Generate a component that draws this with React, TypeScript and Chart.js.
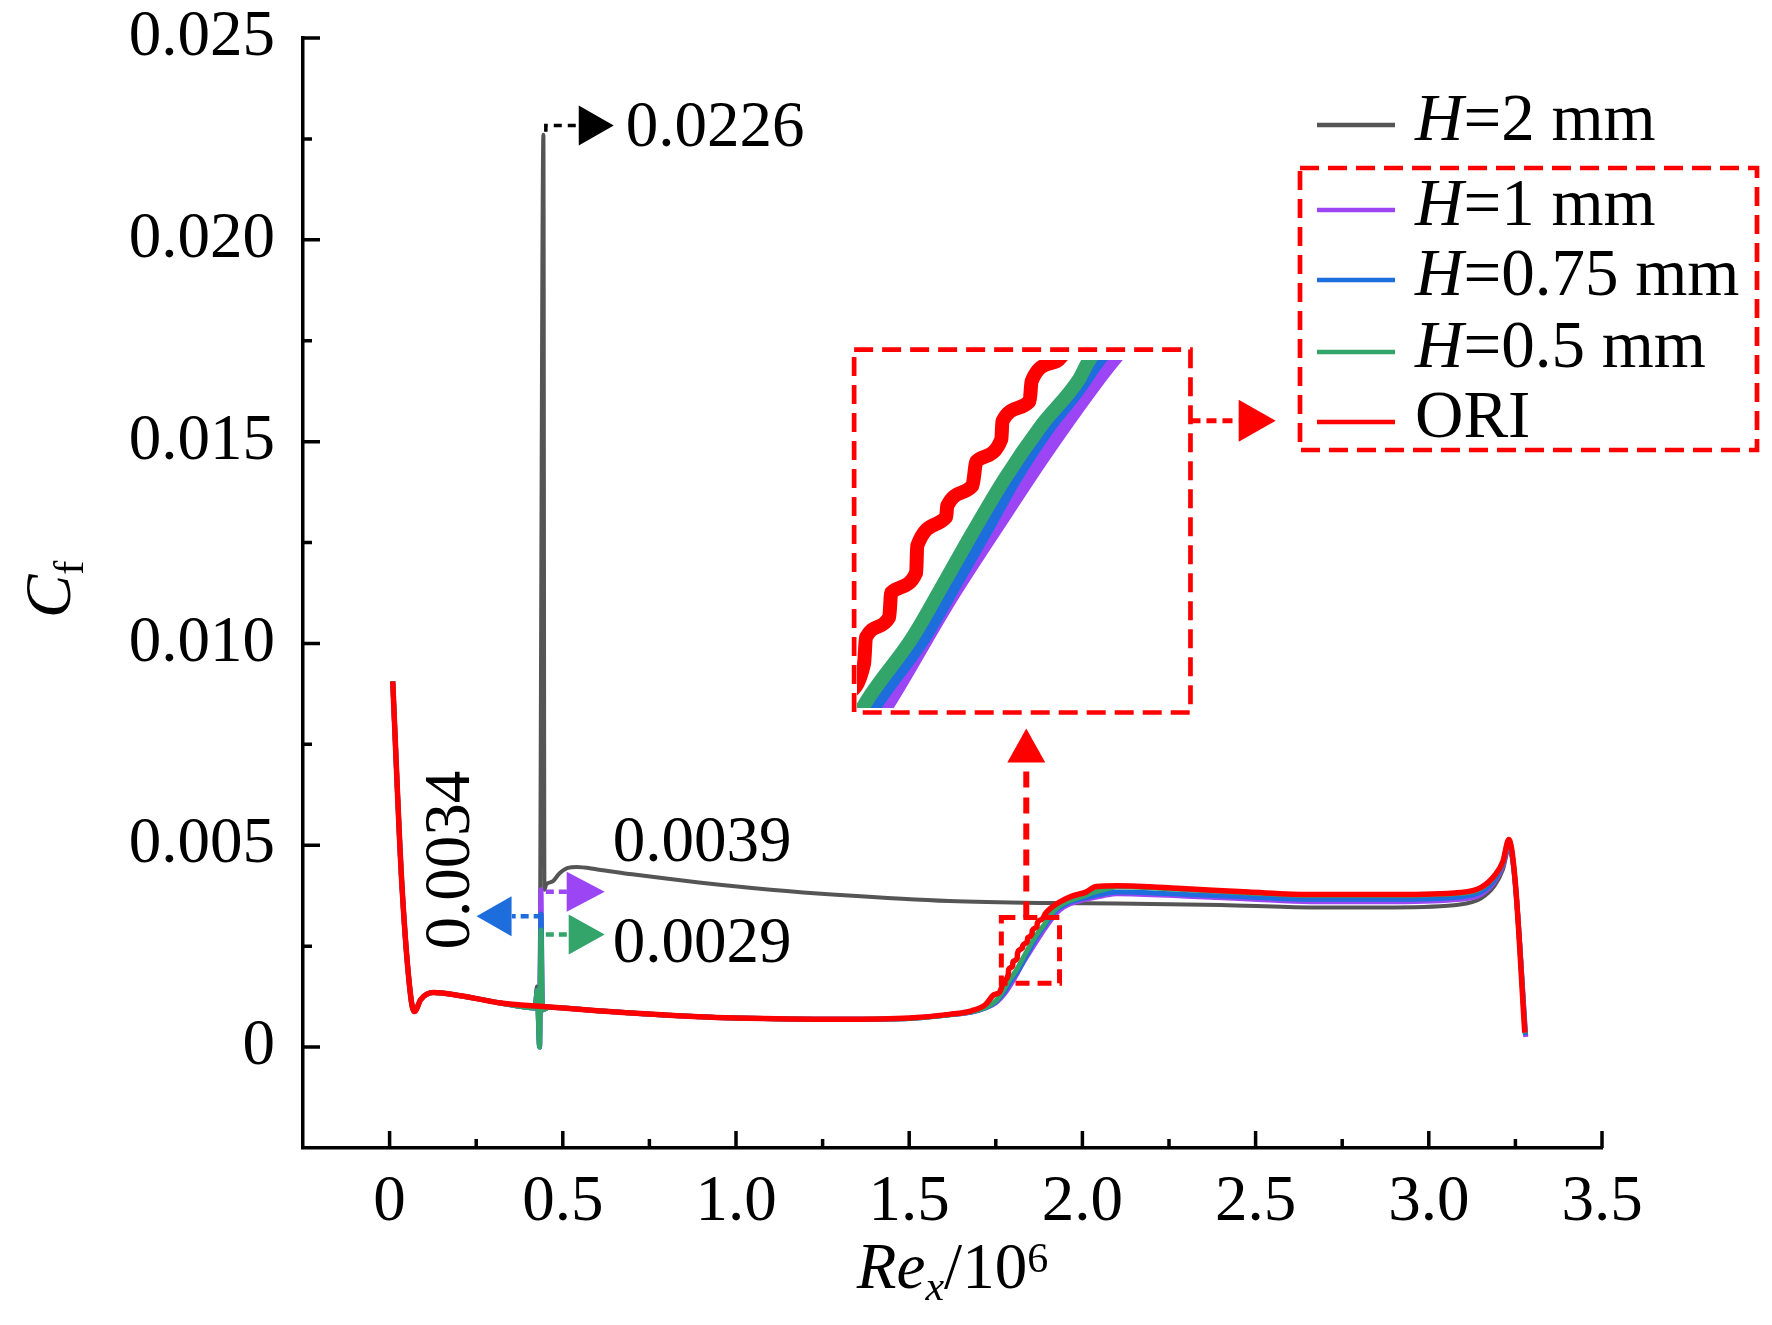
import React, { useEffect, useRef } from 'react';
import { Chart, registerables } from 'chart.js';

Chart.register(...registerables);

const SERIF = '"Liberation Serif", "Times New Roman", Times, serif';

// axis ticks
const xTicks = [0, 0.5, 1, 1.5, 2, 2.5, 3, 3.5];
const xMinorTicks = [0.25, 0.75, 1.25, 1.75, 2.25, 2.75, 3.25];
const yTicks = [0, 0.005, 0.01, 0.015, 0.02, 0.025];
const yMinorTicks = [0.0025, 0.0075, 0.0125, 0.0175, 0.0225];

const seriesNames = ['H=2 mm', 'H=1 mm', 'H=0.75 mm', 'H=0.5 mm', 'ORI'];
const seriesColors = ['#555555', '#9b45f5', '#1e6ddc', '#33a56a', '#ff0000'];

// leading edge, all cases coincide here
const inletX = [0.009, 0.035, 0.061, 0.072, 0.09, 0.127, 0.2, 0.315];
const inletY = [0.00906, 0.0041, 0.00125, 0.00088, 0.00118, 0.00135, 0.00128, 0.0011];

// H = 2 mm
const h2X = [0.42, 0.425, 0.432, 0.444, 0.447, 0.452, 0.47, 0.49, 0.515, 0.54, 0.6, 0.7, 0.893, 1.1, 1.3, 1.616, 1.9, 2.1, 2.4, 2.66, 2.9, 3.09, 3.15, 3.19, 3.214, 3.231, 3.249, 3.277];
const h2Y = [0.00097, 0.0015, 0.0009, 0.0226, 0.0039, 0.00403, 0.0041, 0.0043, 0.00444, 0.00446, 0.0044, 0.00428, 0.00408, 0.0039, 0.00377, 0.00362, 0.00357, 0.00356, 0.00352, 0.00346, 0.00346, 0.00353, 0.00368, 0.004, 0.0044, 0.0049, 0.0041, 0.0004];

// H = 1 mm
const h1X = [0.42, 0.426, 0.433, 0.437, 0.441, 0.46, 0.6, 0.893, 1.0, 1.3, 1.5, 1.616, 1.68, 1.72, 1.75, 1.78, 1.7973, 1.8296, 1.8571, 1.8771, 1.9104, 1.935, 1.965, 2.0, 2.06, 2.1, 2.3, 2.48, 2.66, 2.9, 3.09, 3.15, 3.19, 3.214, 3.231, 3.249, 3.28];
const h1Y = [0.00097, 0.0014, 0.0, 0.0039, 0.00092, 0.00099, 0.0009, 0.00075, 0.00072, 0.00069, 0.00071, 0.0008, 0.00087, 0.00097, 0.0011, 0.00138, 0.00161, 0.0021, 0.00248, 0.00275, 0.00316, 0.0034, 0.00355, 0.00364, 0.00375, 0.0038, 0.00374, 0.00367, 0.0036, 0.0036, 0.00366, 0.00378, 0.0041, 0.0045, 0.005, 0.0041, 0.00025];

// H = 0.75 mm
const h075X = [0.42, 0.426, 0.433, 0.437, 0.441, 0.46, 0.6, 0.893, 1.0, 1.3, 1.5, 1.616, 1.68, 1.72, 1.75, 1.776, 1.7928, 1.8161, 1.8328, 1.8462, 1.8612, 1.8788, 1.8921, 1.903, 1.925, 1.955, 1.995, 2.05, 2.1, 2.3, 2.48, 2.66, 2.9, 3.09, 3.15, 3.19, 3.214, 3.231, 3.249, 3.279];
const h075Y = [0.00097, 0.0014, 0.0, 0.0033, 0.00092, 0.00099, 0.0009, 0.00075, 0.00072, 0.00069, 0.00071, 0.0008, 0.00087, 0.00097, 0.00112, 0.00138, 0.00163, 0.00192, 0.00218, 0.00239, 0.00263, 0.00287, 0.00302, 0.00316, 0.0034, 0.00356, 0.00367, 0.00378, 0.00384, 0.00378, 0.00372, 0.00366, 0.00366, 0.00372, 0.00384, 0.00415, 0.00455, 0.00505, 0.00412, 0.0003];

// H = 0.5 mm
const h05X = [0.42, 0.426, 0.433, 0.437, 0.441, 0.46, 0.6, 0.893, 1.0, 1.3, 1.5, 1.616, 1.68, 1.72, 1.75, 1.772, 1.7885, 1.8103, 1.827, 1.8403, 1.8562, 1.8746, 1.8936, 1.8983, 1.92, 1.95, 1.99, 2.04, 2.08, 2.1, 2.3, 2.48, 2.66, 2.9, 3.09, 3.15, 3.19, 3.214, 3.231, 3.249, 3.278];
const h05Y = [0.00097, 0.0014, 0.0, 0.0029, 0.00092, 0.00099, 0.0009, 0.00075, 0.00072, 0.00069, 0.00071, 0.0008, 0.00088, 0.00098, 0.00115, 0.0014, 0.00165, 0.00192, 0.00218, 0.00239, 0.00263, 0.00287, 0.00308, 0.00316, 0.0034, 0.00358, 0.0037, 0.00385, 0.00394, 0.00397, 0.0039, 0.00382, 0.00376, 0.00376, 0.00381, 0.00393, 0.00423, 0.00458, 0.00512, 0.00414, 0.00034];

// ORI
const oriX = [0.45, 0.6, 0.893, 1.0, 1.3, 1.5, 1.616, 1.68, 1.72, 1.745, 1.76, 1.775, 1.786, 1.787, 1.7986, 1.7996, 1.8121, 1.8126, 1.8271, 1.8276, 1.8402, 1.8422, 1.8547, 1.8552, 1.8688, 1.8698, 1.8823, 1.895, 1.912, 1.935, 1.97, 2.01, 2.04, 2.1, 2.3, 2.48, 2.66, 2.9, 3.09, 3.15, 3.19, 3.214, 3.231, 3.249, 3.277];
const oriY = [0.001, 0.0009, 0.00075, 0.00072, 0.00069, 0.00072, 0.00081, 0.0009, 0.00105, 0.0013, 0.00135, 0.00165, 0.0018, 0.00192, 0.00201, 0.00212, 0.00221, 0.00233, 0.00246, 0.00251, 0.0026, 0.00271, 0.00281, 0.00289, 0.00298, 0.00307, 0.00316, 0.00333, 0.00347, 0.0036, 0.00374, 0.00384, 0.00398, 0.004, 0.00392, 0.00384, 0.00378, 0.00378, 0.00383, 0.00395, 0.00425, 0.0046, 0.00514, 0.00415, 0.00036];

const pts = (xs: number[], ys: number[]) => xs.map((x, i) => ({ x, y: ys[i] }));

const seriesData = [
  pts([...inletX, ...h2X], [...inletY, ...h2Y]),
  pts([...inletX, ...h1X], [...inletY, ...h1Y]),
  pts([...inletX, ...h075X], [...inletY, ...h075Y]),
  pts([...inletX, ...h05X], [...inletY, ...h05Y]),
  pts([...inletX, ...oriX], [...inletY, ...oriY]),
];

const lineWidths = [4, 5, 5, 5, 5.5];
const drawOrder = [4, 3, 2, 1, 0]; // ORI on top

// where the magnified window sits and what it shows (data units of the main axes)
const insetBox = { x0: 1.341, x1: 2.312, y0: 0.00829, y1: 0.01728 };
const insetView = { x0: 1.781, x1: 1.949, y0: 0.00158, y1: 0.00321 };
const zoomRect = { x0: 1.766, x1: 1.934, y0: 0.00158, y1: 0.00321 };

function runs(ctx: CanvasRenderingContext2D, x: number, y: number, parts: { t: string; f: string; dy?: number }[]) {
  let cx = x;
  for (const p of parts) {
    ctx.font = p.f;
    ctx.fillText(p.t, cx, y + (p.dy || 0));
    cx += ctx.measureText(p.t).width;
  }
  return cx - x;
}

function runsWidth(ctx: CanvasRenderingContext2D, parts: { t: string; f: string }[]) {
  let w = 0;
  for (const p of parts) {
    ctx.font = p.f;
    w += ctx.measureText(p.t).width;
  }
  return w;
}

function tri(ctx: CanvasRenderingContext2D, tx: number, ty: number, dir: string, len: number, half: number, color: string) {
  ctx.beginPath();
  ctx.moveTo(tx, ty);
  if (dir === 'right') { ctx.lineTo(tx - len, ty - half); ctx.lineTo(tx - len, ty + half); }
  if (dir === 'left') { ctx.lineTo(tx + len, ty - half); ctx.lineTo(tx + len, ty + half); }
  if (dir === 'up') { ctx.lineTo(tx - half, ty + len); ctx.lineTo(tx + half, ty + len); }
  ctx.closePath();
  ctx.fillStyle = color;
  ctx.fill();
}

function seg(ctx: CanvasRenderingContext2D, path: number[][], color: string, width: number, dash: number[]) {
  ctx.beginPath();
  path.forEach(([a, b], i) => (i === 0 ? ctx.moveTo(a, b) : ctx.lineTo(a, b)));
  ctx.strokeStyle = color;
  ctx.lineWidth = width;
  ctx.setLineDash(dash);
  ctx.stroke();
  ctx.setLineDash([]);
}

const decorPlugin = {
  id: 'decor',
  afterDraw(chart: any) {
    const { ctx, chartArea } = chart;
    const sx = chart.scales.x;
    const sy = chart.scales.y;
    const px = (v: number) => sx.getPixelForValue(v);
    const py = (v: number) => sy.getPixelForValue(v);
    const normal = `65px ${SERIF}`;
    const italic = `italic 65px ${SERIF}`;
    const small = `42px ${SERIF}`;
    const smallIt = `italic 42px ${SERIF}`;

    ctx.save();

    // inward tick marks
    ctx.strokeStyle = '#000';
    ctx.lineWidth = 3.5;
    ctx.beginPath();
    xTicks.forEach((v) => { ctx.moveTo(px(v), chartArea.bottom); ctx.lineTo(px(v), chartArea.bottom - 17); });
    xMinorTicks.forEach((v) => { ctx.moveTo(px(v), chartArea.bottom); ctx.lineTo(px(v), chartArea.bottom - 9); });
    yTicks.forEach((v) => { ctx.moveTo(chartArea.left, py(v)); ctx.lineTo(chartArea.left + 17, py(v)); });
    yMinorTicks.forEach((v) => { ctx.moveTo(chartArea.left, py(v)); ctx.lineTo(chartArea.left + 9, py(v)); });
    ctx.stroke();

    ctx.fillStyle = '#000';
    ctx.textAlign = 'left';
    ctx.textBaseline = 'alphabetic';

    // x title  Re_x/10^6
    const xt = [
      { t: 'Re', f: italic },
      { t: 'x', f: smallIt, dy: 12 },
      { t: '/10', f: normal },
      { t: '6', f: small, dy: -16 },
    ];
    const xw = runsWidth(ctx, xt);
    runs(ctx, (chartArea.left + chartArea.right) / 2 - xw / 2, chartArea.bottom + 140, xt);

    // y title  C_f
    ctx.save();
    ctx.translate(70, (chartArea.top + chartArea.bottom) / 2 + 25);
    ctx.rotate(-Math.PI / 2);
    runs(ctx, 0, 0, [{ t: 'C', f: italic }, { t: 'f', f: small, dy: 13 }]);
    ctx.restore();

    // peak call-outs
    seg(ctx, [[px(0.451), py(0.02268)], [px(0.451), py(0.02283)], [px(0.546), py(0.02283)]], '#000', 3.5, [8, 6]);
    tri(ctx, px(0.647), py(0.02283), 'right', 35, 20, '#000');
    ctx.fillStyle = '#000';
    ctx.font = normal;
    ctx.fillText('0.0226', px(0.682), py(0.02233));

    seg(ctx, [[px(0.451), py(0.00385)], [px(0.5116), py(0.00385)]], seriesColors[1], 4.5, [8, 5]);
    tri(ctx, px(0.621), py(0.00385), 'right', 38, 20, seriesColors[1]);
    seg(ctx, [[px(0.439), py(0.00324)], [px(0.353), py(0.00324)]], seriesColors[2], 4.5, [8, 5]);
    tri(ctx, px(0.251), py(0.00324), 'left', 35, 20, seriesColors[2]);
    seg(ctx, [[px(0.451), py(0.00279)], [px(0.5116), py(0.00279)]], seriesColors[3], 4.5, [8, 5]);
    tri(ctx, px(0.621), py(0.00279), 'right', 36, 20, seriesColors[3]);

    ctx.fillStyle = '#000';
    ctx.font = normal;
    ctx.fillText('0.0039', px(0.644), py(0.00462));
    ctx.fillText('0.0029', px(0.644), py(0.0021));
    ctx.save();
    ctx.translate(px(0.228), py(0.00242));
    ctx.rotate(-Math.PI / 2);
    ctx.fillText('0.0034', 0, 0);
    ctx.restore();

    // zoom window frame, the zoomed rectangle and the connecting arrows
    const red = '#ff0000';
    ctx.strokeStyle = red;
    ctx.lineWidth = 4.7;
    ctx.setLineDash([19, 9]);
    ctx.strokeRect(px(insetBox.x0), py(insetBox.y1), px(insetBox.x1) - px(insetBox.x0), py(insetBox.y0) - py(insetBox.y1));
    ctx.lineWidth = 5;
    ctx.setLineDash([14, 8]);
    ctx.strokeRect(px(zoomRect.x0), py(zoomRect.y1), px(zoomRect.x1) - px(zoomRect.x0), py(zoomRect.y0) - py(zoomRect.y1));
    ctx.setLineDash([]);

    seg(ctx, [[px(1.838), py(0.00321)], [px(1.838), py(0.00705)]], red, 6, [16, 10]);
    tri(ctx, px(1.838), py(0.00789), 'up', 34, 19, red);
    seg(ctx, [[px(2.312), py(0.01552)], [px(2.451), py(0.01552)]], red, 5, [10, 6]);
    tri(ctx, px(2.558), py(0.01552), 'right', 37, 21, red);

    // legend
    const rowY = [125, 210, 280, 352, 422];
    seriesNames.forEach((name, i) => {
      seg(ctx, [[1317, rowY[i]], [1395, rowY[i]]], seriesColors[i], 4.5, []);
      ctx.fillStyle = '#000';
      const parts = name.startsWith('H')
        ? [{ t: 'H', f: `italic 67px ${SERIF}` }, { t: name.slice(1), f: `67px ${SERIF}` }]
        : [{ t: name, f: `67px ${SERIF}` }];
      runs(ctx, 1415, rowY[i] + 15, parts);
    });
    ctx.strokeStyle = red;
    ctx.lineWidth = 4.7;
    ctx.setLineDash([19, 9]);
    ctx.strokeRect(1300, 168, 457, 282);
    ctx.setLineDash([]);

    ctx.restore();
  },
};

const App: React.FC = () => {
  const mainRef = useRef<HTMLCanvasElement | null>(null);
  const insetRef = useRef<HTMLCanvasElement | null>(null);

  useEffect(() => {
    const canvas = mainRef.current;
    const insetCanvas = insetRef.current;
    if (!canvas || !insetCanvas) return;

    const tickFont = { family: SERIF, size: 65 };

    const chart = new Chart(canvas, {
      type: 'line',
      data: {
        datasets: seriesNames.map((label, i) => ({
          label,
          data: seriesData[i],
          borderColor: seriesColors[i],
          borderWidth: lineWidths[i],
          pointRadius: 0,
          fill: false,
          cubicInterpolationMode: 'monotone',
          order: drawOrder[i],
        })),
      } as any,
      options: {
        responsive: false,
        animation: false,
        layout: { padding: { top: 38, right: 170, left: 0, bottom: 0 } },
        plugins: { legend: { display: false }, tooltip: { enabled: false } },
        scales: {
          x: {
            type: 'linear',
            min: -0.25,
            max: 3.5,
            afterBuildTicks: (s: any) => { s.ticks = xTicks.map((value) => ({ value })); },
            afterFit: (s: any) => { s.height = 177; s.paddingLeft = 0; s.paddingRight = 0; },
            grid: { display: false, drawTicks: false },
            border: { display: true, color: '#000', width: 3.5 },
            ticks: {
              autoSkip: false,
              maxRotation: 0,
              padding: 16,
              color: '#000',
              font: tickFont,
              callback: (v: any) => (Number(v) === 0 ? '0' : Number(v).toFixed(1)),
            },
          },
          y: {
            type: 'linear',
            min: -0.0025,
            max: 0.025,
            afterBuildTicks: (s: any) => { s.ticks = yTicks.map((value) => ({ value })); },
            afterFit: (s: any) => { s.width = 303; s.paddingTop = 0; s.paddingBottom = 0; },
            grid: { display: false, drawTicks: false },
            border: { display: true, color: '#000', width: 3.5 },
            ticks: {
              autoSkip: false,
              padding: 28,
              color: '#000',
              font: tickFont,
              callback: (v: any) => (Number(v) === 0 ? '0' : Number(v).toFixed(3)),
            },
          },
        },
      } as any,
      plugins: [decorPlugin],
    });

    // put the magnified view over its frame
    const sx = chart.scales.x;
    const sy = chart.scales.y;
    const left = sx.getPixelForValue(insetBox.x0);
    const top = sy.getPixelForValue(insetBox.y1);
    const w = Math.round(sx.getPixelForValue(insetBox.x1) - left);
    const h = Math.round(sy.getPixelForValue(insetBox.y0) - top);
    insetCanvas.style.left = `${Math.round(left)}px`;
    insetCanvas.style.top = `${Math.round(top)}px`;
    insetCanvas.width = w;
    insetCanvas.height = h;
    insetCanvas.style.width = `${w}px`;
    insetCanvas.style.height = `${h}px`;

    const inset = new Chart(insetCanvas, {
      type: 'line',
      data: {
        datasets: [1, 2, 3, 4].map((i) => ({
          label: seriesNames[i],
          data: seriesData[i],
          borderColor: seriesColors[i],
          borderWidth: 14,
          pointRadius: 0,
          fill: false,
          cubicInterpolationMode: 'monotone',
          order: drawOrder[i],
          clip: { left: -3, right: -3, top: -10, bottom: -5 },
        })),
      } as any,
      options: {
        responsive: false,
        animation: false,
        layout: { padding: 0 },
        plugins: { legend: { display: false }, tooltip: { enabled: false } },
        scales: {
          x: { type: 'linear', display: false, min: insetView.x0, max: insetView.x1 },
          y: { type: 'linear', display: false, min: insetView.y0, max: insetView.y1 },
        },
      } as any,
    });

    return () => {
      inset.destroy();
      chart.destroy();
    };
  }, []);

  return (
    <div style={{ position: 'absolute', left: 0, top: 0, width: '1772px', height: '1325px', background: '#fff' }}>
      <canvas ref={mainRef} width={1772} height={1325} style={{ position: 'absolute', left: 0, top: 0 }}></canvas>
      <canvas ref={insetRef} style={{ position: 'absolute' }}></canvas>
    </div>
  );
};

export default App;
